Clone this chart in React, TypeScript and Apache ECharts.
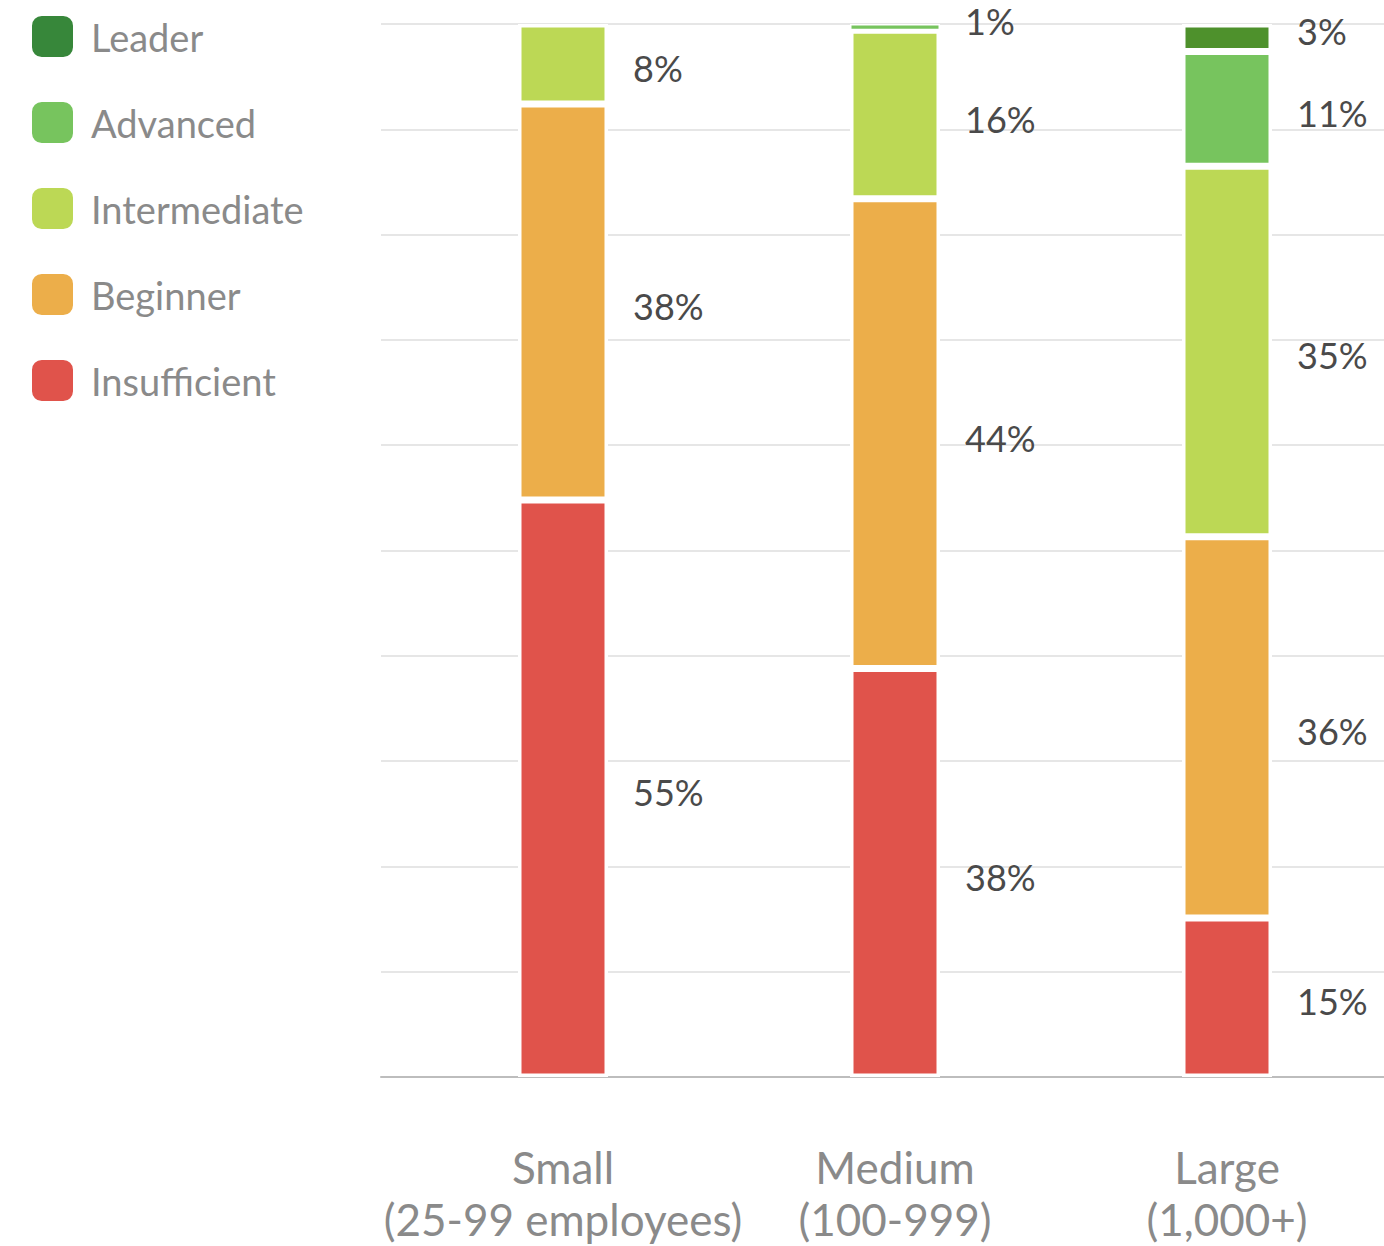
import React, { useEffect, useRef } from "react";
import * as echarts from "echarts";

const categories = ["Small\n(25-99 employees)", "Medium\n(100-999)", "Large\n(1,000+)"];
const levelNames = ["Insufficient", "Beginner", "Intermediate", "Advanced", "Leader"];
const legendOrder = ["Leader", "Advanced", "Intermediate", "Beginner", "Insufficient"];
const barColors = ["#e0534b", "#ecae4a", "#bcd855", "#77c45e", "#4e912c"];
const legendColors = ["#e0534b", "#ecae4a", "#bcd855", "#77c45e", "#37873a"];

// bar heights (share of respondents, %)
const insufficientValues = [54.8, 38.8, 15.1];
const beginnerValues = [37.6, 44.6, 36.2];
const intermediateValues = [7.6, 16.0, 35.2];
const advancedValues = [null, 0.6, 10.9];
const leaderValues = [null, null, 2.6];

// printed labels
const insufficientLabels = [55, 38, 15];
const beginnerLabels = [38, 44, 36];
const intermediateLabels = [8, 16, 35];
const advancedLabels = [null, 1, 11];
const leaderLabels = [null, null, 3];

const yTicks = [0, 10, 20, 30, 40, 50, 60, 70, 80, 90, 100];

const seriesValues = [insufficientValues, beginnerValues, intermediateValues, advancedValues, leaderValues];
const seriesLabels = [insufficientLabels, beginnerLabels, intermediateLabels, advancedLabels, leaderLabels];

export default function App() {
  const ref = useRef<HTMLDivElement>(null);
  useEffect(() => {
    if (!ref.current) return;
    const chart = echarts.init(ref.current, null, { renderer: "svg" });
    const font = "Lato, 'Noto Sans', sans-serif";
    const series: any[] = levelNames.map((name, si) => ({
      name,
      type: "bar",
      stack: "total",
      xAxisIndex: 0,
      yAxisIndex: 0,
      barWidth: 90,
      itemStyle: { color: barColors[si], borderColor: "#ffffff", borderWidth: 3.5 },
      label: {
        show: true,
        position: "right",
        distance: 25,
        color: "#4a4a4a",
        fontSize: 36,
        lineHeight: 36,
        fontFamily: font,
        formatter: (p: any) => {
          const v = seriesLabels[si][p.dataIndex];
          return v == null ? "" : v + "%";
        },
      },
      data: seriesValues[si].map((v) =>
        v == null
          ? null
          : {
              value: v,
              label: { offset: [0, v < 2 ? -6 : v < 4 ? -7 : 4] },
              itemStyle: v < 2 ? { borderWidth: 1.5 } : undefined,
            }
      ),
    }));
    // background grid (gridlines + baseline)
    series.push({
      type: "line",
      xAxisIndex: 1,
      yAxisIndex: 1,
      data: [],
      silent: true,
    });
    chart.setOption({
      animation: false,
      backgroundColor: "#ffffff",
      textStyle: { fontFamily: font },
      legend: {
        orient: "vertical",
        left: 25,
        top: 9,
        itemWidth: 43,
        itemHeight: 43,
        itemGap: 41,
        icon: "roundRect",
        selectedMode: false,
        textStyle: { fontSize: 38, color: "#8a8a8a", fontFamily: font, padding: [0, 0, 0, 12], lineHeight: 43 },
        data: legendOrder.map((n) => ({
          name: n,
          itemStyle: { color: legendColors[levelNames.indexOf(n)] },
        })),
      },
      grid: [
        { left: 397, right: -9, top: 24, bottom: 169, outerBoundsMode: "none", containLabel: false },
        { left: 381, right: 0, top: 24, bottom: 169, outerBoundsMode: "none", containLabel: false },
      ],
      xAxis: [
        {
          type: "category",
          gridIndex: 0,
          data: categories,
          axisLine: { show: false },
          axisTick: { show: false },
          axisLabel: {
            interval: 0,
            hideOverlap: false,
            margin: 64,
            fontSize: 44,
            lineHeight: 52,
            color: "#8a8a8a",
            fontFamily: font,
          },
          z: 5,
        },
        {
          type: "value",
          gridIndex: 1,
          min: 0,
          max: 1,
          axisLine: { show: true, onZero: false, lineStyle: { color: "#bdbdbd", width: 2 } },
          axisTick: { show: false },
          axisLabel: { show: false },
          splitLine: { show: false },
          z: 1,
        },
      ],
      yAxis: [
        {
          type: "value",
          gridIndex: 0,
          min: yTicks[0],
          max: yTicks[yTicks.length - 1],
          interval: 10,
          axisLine: { show: false },
          axisTick: { show: false },
          axisLabel: { show: false },
          splitLine: { show: false },
        },
        {
          type: "value",
          gridIndex: 1,
          min: yTicks[0],
          max: yTicks[yTicks.length - 1],
          interval: 10,
          axisLine: { show: false },
          axisTick: { show: false },
          axisLabel: { show: false },
          splitLine: { show: true, lineStyle: { color: "#e6e6e6", width: 2 } },
        },
      ],
      series,
    });
    return () => chart.dispose();
  }, []);
  return (
    <div
      ref={ref}
      style={{ position: "fixed", left: 0, top: 0, width: 1384, height: 1246 }}
    />
  );
}
